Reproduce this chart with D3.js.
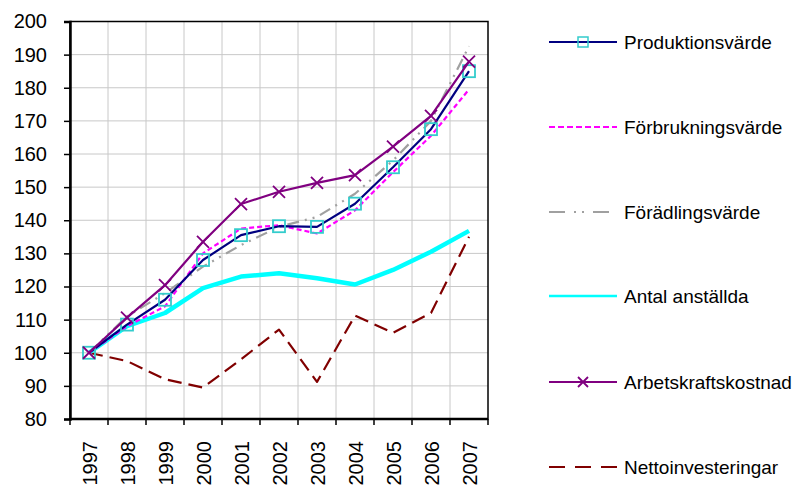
<!DOCTYPE html>
<html>
<head>
<meta charset="utf-8">
<script src="https://cdn.jsdelivr.net/npm/d3@7"></script>
<style>
  body { margin: 0; background: #fff; }
  text { font-family: "Liberation Sans", Arial, sans-serif; fill: #000; }
</style>
</head>
<body>
<svg id="chart" width="808" height="487"></svg>
<script>
const years = ["1997","1998","1999","2000","2001","2002","2003","2004","2005","2006","2007"];
const produktion = [100, 108.5, 116, 128, 135.5, 138.2, 138, 145, 156, 167.5, 185];
const forbrukning = [100, 108, 114, 130, 137.5, 138.5, 136, 143, 154.5, 165.5, 179.5];
const foradling = [100, 111, 118, 126, 132.5, 138, 141, 148, 158, 170, 192.5];
const anstallda = [100, 108, 112, 119.5, 123, 124, 122.5, 120.6, 125, 130.5, 136.8];
const arbetskraft = [100, 110.6, 120.4, 133.5, 144.9, 148.6, 151.3, 153.6, 162.2, 171.5, 187.9];
const netto = [100, 97.5, 92, 89.5, 98, 107, 91.2, 111.2, 106, 112, 135];
const yTicks = [80, 90, 100, 110, 120, 130, 140, 150, 160, 170, 180, 190, 200];

const series = [
  { name: "Produktionsvärde", values: produktion, color: "#000080", width: 2.2, dash: null, legendDash: null, marker: "square" },
  { name: "Förbrukningsvärde", values: forbrukning, color: "#ff00ff", width: 2.2, dash: "5,3", legendDash: "6,3", marker: null },
  { name: "Förädlingsvärde", values: foradling, color: "#a0a0a0", width: 2.2, dash: "12,6,2,6,2,6", legendDash: "16,9,2,6,2,9", marker: null },
  { name: "Antal anställda", values: anstallda, color: "#00ffff", width: 4.5, dash: null, legendDash: null, marker: null },
  { name: "Arbetskraftskostnad", values: arbetskraft, color: "#800080", width: 2.2, dash: null, legendDash: null, marker: "x" },
  { name: "Nettoinvesteringar", values: netto, color: "#800000", width: 2.2, dash: "14,7", legendDash: "16,10", marker: null }
];

const margin = { left: 70, top: 21.5 };
const width = 488 - margin.left;
const height = 419 - margin.top;

const svg = d3.select("#chart");
const chart = svg.append("g").attr("transform", `translate(${margin.left},${margin.top})`);

const xScale = d3.scaleBand().domain(years).range([0, width]);
const yScale = d3.scaleLinear().domain([80, 200]).range([height, 0]);

// grid
chart.append("g").selectAll("line")
  .data(yTicks.slice(1))
  .join("line")
  .attr("x1", 0).attr("x2", width)
  .attr("y1", d => yScale(d)).attr("y2", d => yScale(d))
  .attr("stroke", "#c8c8c8").attr("stroke-width", 1);
chart.append("g").selectAll("line")
  .data(years.slice(1))
  .join("line")
  .attr("x1", d => xScale(d)).attr("x2", d => xScale(d))
  .attr("y1", 0).attr("y2", height)
  .attr("stroke", "#c8c8c8").attr("stroke-width", 1);

// border
chart.append("rect")
  .attr("x", 0).attr("y", 0).attr("width", width).attr("height", height)
  .attr("fill", "none").attr("stroke", "#000").attr("stroke-width", 1.5);

// y axis
const yAxis = chart.append("g")
  .call(d3.axisLeft(yScale).tickValues(yTicks).tickSize(6).tickPadding(17));
yAxis.select(".domain").attr("stroke-width", 2.5);
yAxis.selectAll(".tick line").attr("stroke-width", 1.5);
yAxis.selectAll("text").style("font-size", "20px").style("font-family", "'Liberation Sans', Arial, sans-serif");

// x axis (ticks at category boundaries)
const xAxisG = chart.append("g").attr("transform", `translate(0,${height})`);
xAxisG.append("line").attr("x1", 0).attr("x2", width).attr("y1", 0).attr("y2", 0)
  .attr("stroke", "#000").attr("stroke-width", 2.5);
xAxisG.selectAll("line.tk")
  .data(d3.range(years.length + 1))
  .join("line")
  .attr("class", "tk")
  .attr("x1", i => i * xScale.step()).attr("x2", i => i * xScale.step())
  .attr("y1", 0).attr("y2", 6)
  .attr("stroke", "#000").attr("stroke-width", 1.5);
xAxisG.selectAll("text")
  .data(years)
  .join("text")
  .attr("transform", d => `translate(${xScale(d) + xScale.bandwidth() / 2 + 7.5},${22}) rotate(-90)`)
  .attr("text-anchor", "end")
  .style("font-size", "20px")
  .text(d => d);

const cx = d => xScale(d) + xScale.bandwidth() / 2;
const line = d3.line().x((d, i) => cx(years[i])).y(d => yScale(d));

// draw order: netto, anstallda, foradling, forbrukning, produktion, arbetskraft
const order = [5, 3, 2, 1, 0, 4];
order.forEach(k => {
  const s = series[k];
  chart.append("path")
    .datum(s.values)
    .attr("d", line)
    .attr("fill", "none")
    .attr("stroke", s.color)
    .attr("stroke-width", s.width)
    .attr("stroke-dasharray", s.dash)
    .attr("stroke-linejoin", "round");
  if (s.marker === "square") {
    chart.append("g").selectAll("rect")
      .data(s.values)
      .join("rect")
      .attr("x", (d, i) => cx(years[i]) - 6)
      .attr("y", d => yScale(d) - 6)
      .attr("width", 12).attr("height", 12)
      .attr("fill", "none").attr("stroke", "#33cccc").attr("stroke-width", 1.8);
  }
  if (s.marker === "x") {
    chart.append("g").selectAll("path")
      .data(s.values)
      .join("path")
      .attr("d", (d, i) => {
        const x = cx(years[i]), y = yScale(d), r = 6;
        return `M${x - r},${y - r}L${x + r},${y + r}M${x - r},${y + r}L${x + r},${y - r}`;
      })
      .attr("stroke", s.color).attr("stroke-width", 1.8);
  }
});

// legend
const legendY = [42, 127, 212, 296, 382, 467];
const legend = svg.append("g");
series.forEach((s, i) => {
  const y = legendY[i];
  legend.append("line")
    .attr("x1", 549).attr("x2", 617).attr("y1", y).attr("y2", y)
    .attr("stroke", s.color).attr("stroke-width", s.width > 3 ? 2.5 : 2.2)
    .attr("stroke-dasharray", s.legendDash);
  if (s.marker === "square") {
    legend.append("rect").attr("x", 578).attr("y", y - 5).attr("width", 10).attr("height", 10)
      .attr("fill", "none").attr("stroke", "#33cccc").attr("stroke-width", 1.5);
  }
  if (s.marker === "x") {
    legend.append("path").attr("d", `M578,${y - 5}L588,${y + 5}M578,${y + 5}L588,${y - 5}`)
      .attr("stroke", s.color).attr("stroke-width", 1.8);
  }
  legend.append("text").attr("x", 624).attr("y", y).attr("dy", "0.35em")
    .style("font-size", "19px").text(s.name);
});
</script>
</body>
</html>
